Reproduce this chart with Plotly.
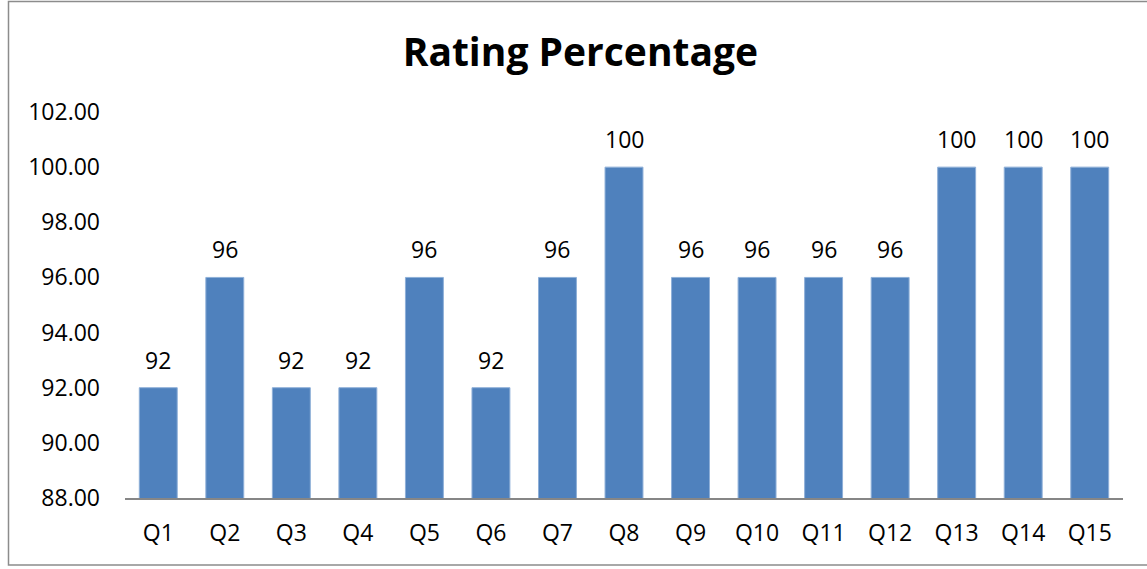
import plotly.graph_objects as go

categories = ["Q1", "Q2", "Q3", "Q4", "Q5", "Q6", "Q7", "Q8", "Q9", "Q10", "Q11", "Q12", "Q13", "Q14", "Q15"]
values = [92, 96, 92, 92, 96, 92, 96, 100, 96, 96, 96, 96, 100, 100, 100]
y_ticks = [88, 90, 92, 94, 96, 98, 100, 102]

FONT = "Open Sans, Liberation Sans, sans-serif"

fig = go.Figure(go.Bar(
    x=categories, y=values,
    marker=dict(color="#4F81BD", line=dict(color="#8EAFD8", width=1)),
    cliponaxis=False,
))

for c, v in zip(categories, values):
    fig.add_annotation(x=c, y=v, text=str(v), showarrow=False,
                       yanchor="bottom", yshift=10,
                       font=dict(size=23, family=FONT, color="#000000"))

W, H = 1147, 569
ml, mr, mt, mb = 125, 24, 112, 71
pw, ph = W - ml - mr, H - mt - mb

def px_x(px):
    return (px - ml) / pw

def px_y(py):
    return (H - mb - py) / ph

fig.update_layout(
    width=W, height=H,
    margin=dict(l=ml, r=mr, t=mt, b=mb),
    paper_bgcolor="white", plot_bgcolor="white",
    showlegend=False,
    bargap=0.43,
    font=dict(family=FONT, color="#000000"),
    title=dict(text="<b>Rating Percentage</b>", x=0.506, xanchor="center",
               y=1 - 52 / H, yanchor="middle",
               font=dict(size=39, family=FONT, color="#000000")),
    xaxis=dict(showgrid=False, showline=True, linecolor="#868686", linewidth=1.5,
               ticks="", tickfont=dict(size=23, family=FONT), ticklabelstandoff=14),
    yaxis=dict(range=[88, 102], tickvals=y_ticks,
               ticktext=[f"{v:.2f}" for v in y_ticks],
               showgrid=False, showline=False, zeroline=False, ticks="",
               tickfont=dict(size=23, family=FONT), ticklabelstandoff=24),
)

fig.add_shape(type="rect", xref="paper", yref="paper",
              x0=px_x(8.5), x1=px_x(1165), y0=px_y(565), y1=px_y(1.5),
              line=dict(color="#8C8C8C", width=1.5), fillcolor="rgba(0,0,0,0)", layer="below")

fig.write_html("out.html", config={"displayModeBar": False},
               post_script="document.body.style.margin='0';document.body.style.overflow='hidden';")
